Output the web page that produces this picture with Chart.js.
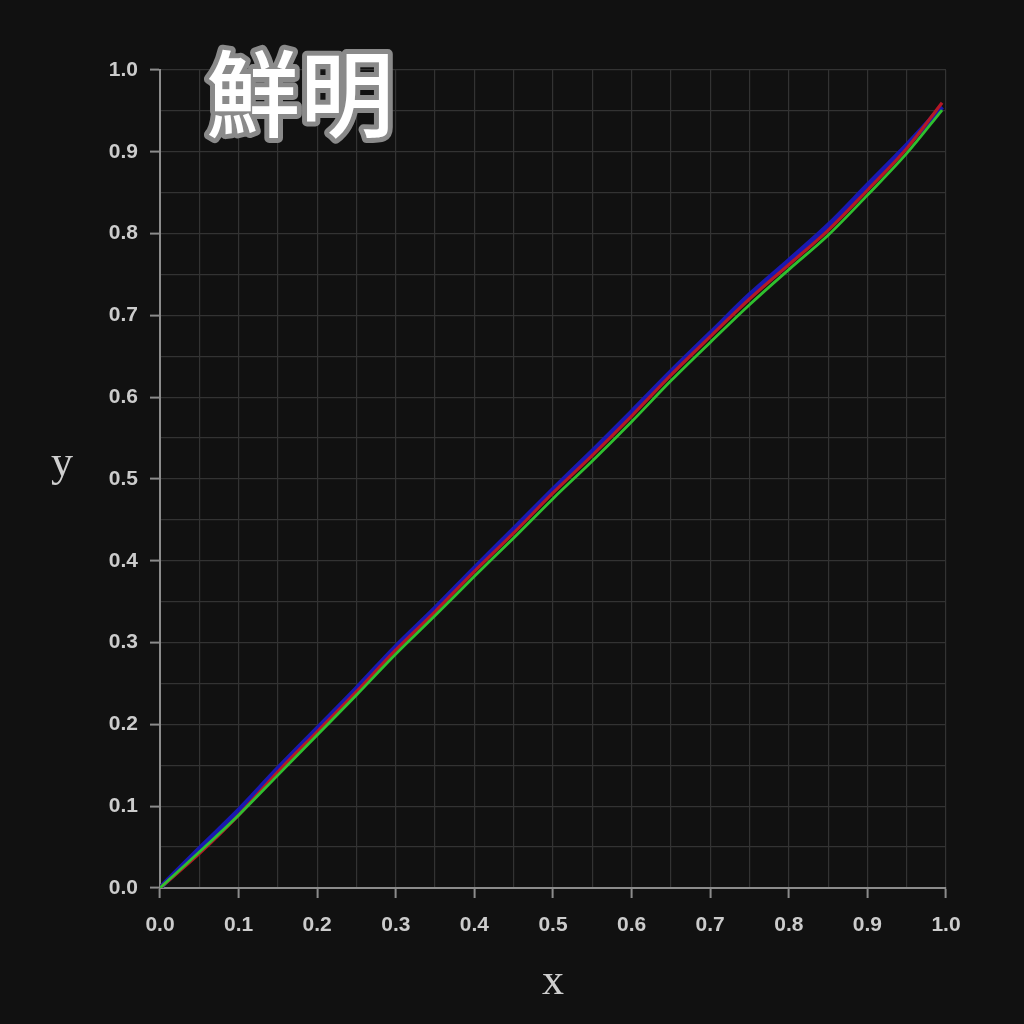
<!DOCTYPE html>
<html>
<head>
<meta charset="utf-8">
<script src="https://cdn.jsdelivr.net/npm/chart.js@4/dist/chart.umd.min.js"></script>
<style>
  html,body{margin:0;padding:0;background:#111111;}
  #wrap{width:1024px;height:1024px;position:relative;}
</style>
</head>
<body>
<div id="wrap"><canvas id="c" width="1024" height="1024"></canvas></div>
<script>
const titleText = "鮮明";
const xTitle = "x";
const yTitle = "y";
const xValues = [0, 0.05, 0.1, 0.15, 0.2, 0.25, 0.3, 0.35, 0.4, 0.45, 0.5, 0.55, 0.6, 0.65, 0.7, 0.75, 0.8, 0.85, 0.9, 0.95, 0.995];
const blueValues = [0, 0.048, 0.095, 0.146, 0.195, 0.244, 0.295, 0.342, 0.391, 0.439, 0.487, 0.534, 0.582, 0.631, 0.678, 0.725, 0.767, 0.810, 0.859, 0.908, 0.955];
const redValues = [0, 0.042, 0.089, 0.142, 0.191, 0.240, 0.291, 0.338, 0.387, 0.434, 0.483, 0.529, 0.577, 0.627, 0.674, 0.720, 0.762, 0.804, 0.853, 0.904, 0.960];
const greenValues = [0, 0.044, 0.089, 0.138, 0.187, 0.236, 0.286, 0.333, 0.381, 0.428, 0.476, 0.522, 0.570, 0.620, 0.667, 0.713, 0.756, 0.798, 0.847, 0.898, 0.951];

function pts(ys){ return xValues.map((x,i)=>({x:x, y:ys[i]})); }
function isMajor(v){ return Math.round(v*100) % 10 === 0; }

const bgPlugin = {
  id:'bg',
  beforeDraw(chart){
    const c = chart.ctx;
    c.save(); c.fillStyle = '#111111'; c.fillRect(0,0,chart.width,chart.height); c.restore();
  }
};
const textPlugin = {
  id:'texts',
  afterDraw(chart){
    const c = chart.ctx, a = chart.chartArea;
    c.save();
    c.font = '44px "Liberation Serif", "DejaVu Serif", serif';
    c.fillStyle = '#cfcfcf';
    c.textAlign = 'center'; c.textBaseline = 'middle';
    c.fillText(yTitle, 62, 464);
    c.fillText(xTitle, (a.left + a.right)/2, 982);
    c.font = '500 94px "Noto Sans CJK JP", "Noto Sans CJK SC", sans-serif';
    c.lineJoin = 'round';
    c.lineWidth = 10;
    c.strokeStyle = '#8a8a8a';
    c.strokeText(titleText, 300, 94);
    c.fillStyle = '#ffffff';
    c.fillText(titleText, 300, 94);
    c.restore();
  }
};

const tickFont = {family:'"Liberation Sans", Arial, sans-serif', size:21, weight:'bold'};
function gridOpts(){
  return {
    color:'#333333',
    lineWidth:1.2,
    drawTicks:true,
    tickLength:10,
    tickWidth:2,
    tickColor:(ctx)=> (ctx.tick && isMajor(ctx.tick.value)) ? '#8c8c8c' : 'rgba(0,0,0,0)'
  };
}

new Chart(document.getElementById('c'), {
  type:'line',
  data:{
    datasets:[
      {data:pts(blueValues), borderColor:'#1818b0', borderWidth:5, pointRadius:0, cubicInterpolationMode:'monotone', order:3},
      {data:pts(redValues), borderColor:'#b41826', borderWidth:3.2, pointRadius:0, cubicInterpolationMode:'monotone', order:2},
      {data:pts(greenValues), borderColor:'#2fc02f', borderWidth:2.8, pointRadius:0, cubicInterpolationMode:'monotone', order:1}
    ]
  },
  options:{
    responsive:false,
    animation:false,
    devicePixelRatio:1,
    layout:{padding:{left:0, top:70, right:78, bottom:0}},
    plugins:{legend:{display:false}, tooltip:{enabled:false}, title:{display:false}},
    scales:{
      x:{
        type:'linear', min:0, max:1,
        afterFit(s){ s.height = 136; },
        border:{display:true, color:'#8c8c8c', width:2},
        grid:gridOpts(),
        ticks:{stepSize:0.05, autoSkip:false, maxRotation:0, color:'#cccccc', font:tickFont, padding:15,
          callback:(v)=> isMajor(v) ? Number(v).toFixed(1) : ''}
      },
      y:{
        type:'linear', min:0, max:1,
        afterFit(s){ s.width = 160; },
        border:{display:true, color:'#8c8c8c', width:2},
        grid:gridOpts(),
        ticks:{stepSize:0.05, autoSkip:false, color:'#cccccc', font:tickFont, padding:12,
          callback:(v)=> isMajor(v) ? Number(v).toFixed(1) : ''}
      }
    }
  },
  plugins:[bgPlugin, textPlugin]
});
</script>
</body>
</html>
